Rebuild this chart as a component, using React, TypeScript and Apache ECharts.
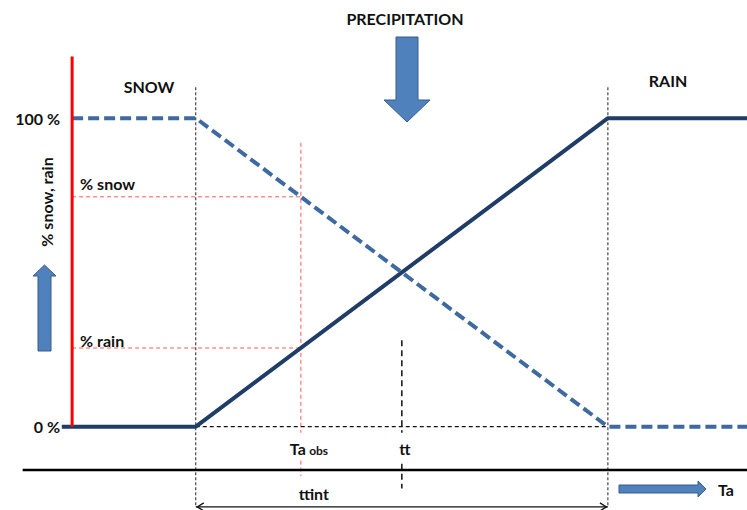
import React, { useEffect, useRef } from "react";
import * as echarts from "echarts";

// Axis domains (Ta in arbitrary degrees, share in %)
const taMin = -3.9;
const taMax = 3.35;
const pctMin = -27;
const pctMax = 125;

// Rain share (solid) and snow share (dashed) vs air temperature
const rainTa = [-3.3, -2, 2, 3.35];
const rainPct = [0, 0, 100, 100];
const snowTa = [-3.2, -2, 2, 3.35];
const snowPct = [100, 100, 0, 0];

// Threshold temperatures and observed temperature
const ttLow = -2;
const ttHigh = 2;
const tt = 0;
const taObs = -0.98;
const snowAtObs = 74.5;
const rainAtObs = 25.5;

// y tick labels
const yTickValues = [0, 100];
const yTickLabels = ["0 %", "100 %"];

// Annotation text
const titleText = "PRECIPITATION";
const snowText = "SNOW";
const rainText = "RAIN";
const snowShareText = "% snow";
const rainShareText = "% rain";
const yAxisTitle = "% snow, rain";
const ttText = "tt";
const ttintText = "ttint";
const taText = "Ta";

const FONT = "Lato, 'Open Sans', sans-serif";

function seg(points: number[][], color: string, width: number, type: any, z: number) {
  return {
    type: "line",
    data: points,
    symbol: "none",
    silent: true,
    clip: false,
    z,
    lineStyle: { color, width, type, cap: "butt" },
  };
}

export default function App() {
  const ref = useRef<HTMLDivElement>(null);
  useEffect(() => {
    if (!ref.current) return;
    const chart = echarts.init(ref.current, null, { renderer: "svg" });
    const redX = -3.2;
    const option: any = {
      animation: false,
      backgroundColor: "#ffffff",
      grid: { left: 0, right: 0, top: 41, bottom: 0 },
      xAxis: { type: "value", min: taMin, max: taMax, show: false, splitLine: { show: false } },
      yAxis: { type: "value", min: pctMin, max: pctMax, show: false, splitLine: { show: false } },
      series: [
        // red dashed guides
        seg([[taObs, 92], [taObs, -2]], "#FF5A5A", 1, [4, 3], 1),
        seg([[taObs, -11], [taObs, -16]], "#FF5A5A", 1, [4, 3], 1),
        seg([[redX, snowAtObs], [taObs, snowAtObs]], "#FF5A5A", 1, [4, 3], 1),
        seg([[redX, rainAtObs], [taObs, rainAtObs]], "#FF5A5A", 1, [4, 3], 1),
        // threshold verticals
        seg([[ttLow, 110], [ttLow, -26]], "#222", 1, [3, 2], 1),
        seg([[ttHigh, 110], [ttHigh, -26]], "#222", 1, [3, 2], 1),
        // zero dashed line
        seg([[ttLow, 0], [ttHigh, 0]], "#111", 1.3, [4, 3], 1),
        // tt dashed
        seg([[tt, 28], [tt, -2]], "#111", 1.5, [6, 4], 1),
        seg([[tt, -12], [tt, -20]], "#111", 1.5, [6, 4], 1),
        // Ta axis
        seg([[-3.68, -14], [taMax, -14]], "#000", 2.5, "solid", 2),
        // ttint span
        seg([[ttLow, -26], [ttHigh, -26]], "#111", 1.2, "solid", 2),
        // series
        {
          type: "line",
          name: "rain",
          data: rainTa.map((t, i) => [t, rainPct[i]]),
          symbol: "none",
          clip: false,
          z: 5,
          lineStyle: { color: "#1F3D66", width: 4 },
        },
        {
          type: "line",
          name: "snow",
          data: snowTa.map((t, i) => [t, snowPct[i]]),
          symbol: "none",
          clip: false,
          z: 5,
          lineStyle: { color: "#3F6AA0", width: 4, type: [11, 5] },
        },
        seg([[redX, 0], [redX, 120]], "#FF0000", 3, "solid", 6),
      ],
    };
    chart.setOption(option);

    const px = (a: number, b: number) => chart.convertToPixel({ gridIndex: 0 }, [a, b]) as number[];
    const txt = (x: number, y: number, text: string, align: string, extra: any = {}) => ({
      type: "text",
      x,
      y,
      z: 20,
      style: {
        text,
        fill: "#111",
        font: `bold 16px ${FONT}`,
        textAlign: align,
        textVerticalAlign: "middle",
        ...extra,
      },
    });
    const arrowStyle = { fill: "#4F81BD", stroke: "#385D8A", lineWidth: 1 };

    const pLow = px(ttLow, -26);
    const pHigh = px(ttHigh, -26);
    const pTt = px(tt, -7);
    const pObs = px(taObs, -7);
    const pSpan = px((ttLow + ttHigh) / 2, -21.5);
    const yLabel = yTickValues.map((v, i) => {
      const p = px(redX, v);
      return txt(p[0] - 12, p[1], yTickLabels[i], "right");
    });
    const pSnowShare = px(redX, snowAtObs);
    const pRainShare = px(redX, rainAtObs);

    const graphic: any[] = [
      txt(405, 18, titleText, "center"),
      txt(149, 86, snowText, "center"),
      txt(668, 80, rainText, "center"),
      ...yLabel,
      txt(pSnowShare[0] + 8, pSnowShare[1] - 13, snowShareText, "left"),
      txt(pRainShare[0] + 8, pRainShare[1] - 8, rainShareText, "left"),
      {
        type: "text",
        x: 46,
        y: 202,
        rotation: Math.PI / 2,
        z: 20,
        style: {
          text: yAxisTitle,
          fill: "#111",
          font: `bold 16px ${FONT}`,
          textAlign: "center",
          textVerticalAlign: "middle",
        },
      },
      {
        type: "text",
        x: pObs[0] - 11,
        y: pObs[1],
        z: 20,
        style: {
          text: "{a|Ta} {b|obs}",
          textAlign: "left",
          textVerticalAlign: "middle",
          rich: {
            a: { font: `bold 16px ${FONT}`, fill: "#111" },
            b: { font: `bold 12px ${FONT}`, fill: "#111", padding: [4, 0, 0, 0] },
          },
        },
      },
      txt(pTt[0] + 3, pTt[1], ttText, "center"),
      txt(pSpan[0] - 88, pSpan[1], ttintText, "center"),
      txt(718, 489, taText, "left"),
      // chevrons of the ttint span
      {
        type: "polyline",
        z: 20,
        shape: { points: [[pLow[0] + 8, pLow[1] - 4], [pLow[0] + 1.5, pLow[1]], [pLow[0] + 8, pLow[1] + 4]] },
        style: { stroke: "#111", lineWidth: 1.3, fill: null },
      },
      {
        type: "polyline",
        z: 20,
        shape: { points: [[pHigh[0] - 8, pHigh[1] - 4], [pHigh[0] - 1.5, pHigh[1]], [pHigh[0] - 8, pHigh[1] + 4]] },
        style: { stroke: "#111", lineWidth: 1.3, fill: null },
      },
      // block arrows
      {
        type: "polygon",
        z: 20,
        shape: { points: [[396, 37], [418, 37], [418, 100], [430, 100], [407, 122], [384, 100], [396, 100]] },
        style: arrowStyle,
      },
      {
        type: "polygon",
        z: 20,
        shape: { points: [[38, 351], [51, 351], [51, 276], [56, 276], [44.5, 265], [33, 276], [38, 276]] },
        style: arrowStyle,
      },
      {
        type: "polygon",
        z: 20,
        shape: { points: [[619, 485], [698, 485], [698, 481], [706, 489], [698, 497], [698, 493], [619, 493]] },
        style: arrowStyle,
      },
    ];
    chart.setOption({ graphic });
    return () => chart.dispose();
  }, []);
  return (
    <div
      ref={ref}
      style={{ position: "fixed", left: 0, top: 0, width: 747, height: 510, background: "#fff" }}
    />
  );
}
